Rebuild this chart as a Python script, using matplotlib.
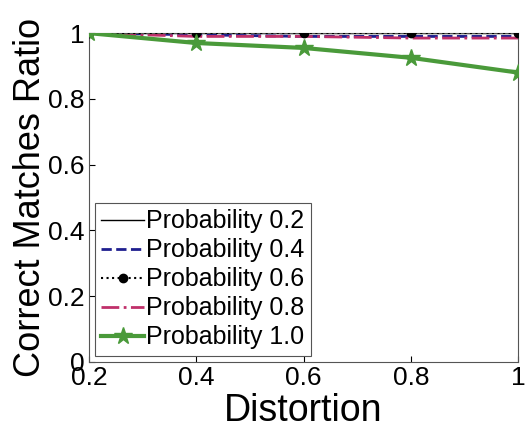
import numpy as np
import matplotlib.pyplot as plt

plt.rcParams['font.family'] = ['Liberation Sans', 'DejaVu Sans']

# Data
distortion = [0.2, 0.4, 0.6, 0.8, 1.0]
p02 = [1.0, 1.0, 1.0, 1.0, 1.0]
p04 = [1.0, 0.995, 0.99, 0.99, 0.99]
p06 = [1.0, 1.0, 1.0, 1.0, 1.0]
p08 = [1.0, 0.99, 0.99, 0.985, 0.985]
p10 = [1.0, 0.97, 0.955, 0.925, 0.88]

fig = plt.figure(figsize=(5.26, 4.36), dpi=100)
ax = fig.add_axes([0.169, 0.170, 0.816, 0.754])

ax.plot(distortion, p02, '-', color='black', lw=1, label='Probability 0.2')
ax.plot(distortion, p04, '--', color='#1f1f8f', lw=2, label='Probability 0.4')
ax.plot(distortion, p06, ':', color='black', lw=1.5, marker='o', ms=6, zorder=4,
        label='Probability 0.6')
ax.plot(distortion, p08, '-.', color='#c0306a', lw=2, label='Probability 0.8')
ax.plot(distortion, p10, '-', color='#4a9a3a', lw=3, marker='*', ms=13, zorder=5,
        label='Probability 1.0')

ax.set_xlim(0.2, 1.0)
ax.set_ylim(0, 1)
ax.set_xticks([0.2, 0.4, 0.6, 0.8, 1.0])
ax.set_xticklabels(['0.2', '0.4', '0.6', '0.8', '1'])
ax.set_yticks([0, 0.2, 0.4, 0.6, 0.8, 1.0])
ax.set_yticklabels(['0', '0.2', '0.4', '0.6', '0.8', '1'])
ax.tick_params(direction='in', labelsize=19, length=4, pad=3)
for s in ax.spines.values():
    s.set_linewidth(0.8)
    s.set_color('#555555')

ax.set_xlabel('Distortion', fontsize=27, labelpad=2)
ax.set_ylabel('Correct Matches Ratio', fontsize=26, labelpad=0)

leg = ax.legend(loc='lower left', fontsize=18, handlelength=1.7, handletextpad=0.1,
                borderpad=0.25, labelspacing=0.2, fancybox=False, framealpha=1,
                borderaxespad=0.25)
leg.get_frame().set_edgecolor('#555555')
leg.get_frame().set_linewidth(0.8)

plt.savefig('out.png', dpi=100)
